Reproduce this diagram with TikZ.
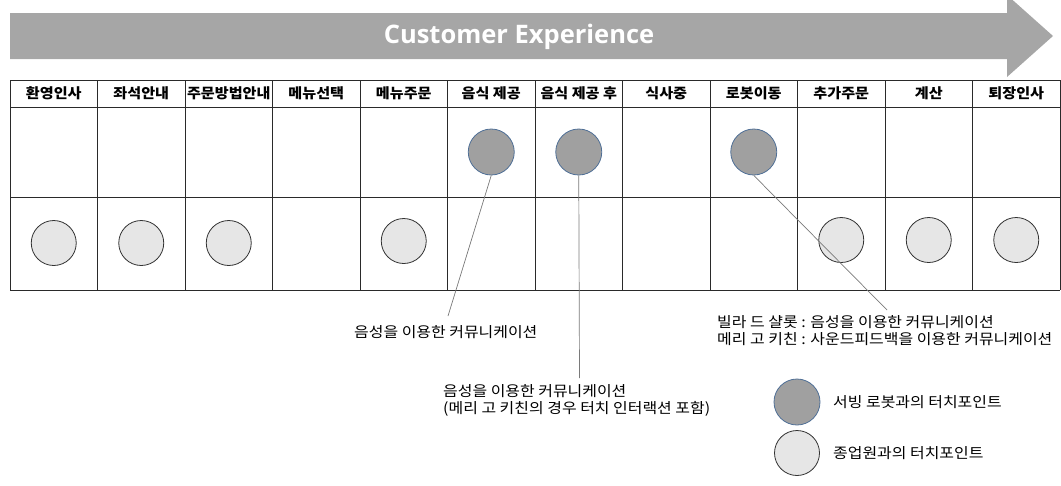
\documentclass[tikz,border=0pt]{standalone}
\usepackage{fontspec}
\setmainfont{Noto Sans CJK KR}
\newfontfamily\titlefont{Open Sans}
\newfontfamily\lblfont[FakeStretch=1.1]{Noto Sans CJK KR}
\newfontfamily\hdrfont[FakeStretch=1.08]{Noto Sans CJK KR}
\definecolor{arrowgray}{HTML}{A6A6A6}
\definecolor{robotfill}{HTML}{A0A0A0}
\definecolor{robotline}{HTML}{4F6F96}
\definecolor{stafffill}{HTML}{E6E6E6}
\definecolor{staffline}{HTML}{333333}
\definecolor{gridline}{HTML}{2A2A2A}
\definecolor{connline}{HTML}{7A7A7A}
\tikzset{
  hdr/.style={font=\hdrfont\bfseries\fontsize{14}{16}\selectfont, anchor=center, inner sep=0pt},
  robot/.style={circle, draw=robotline, fill=robotfill, line width=0.8pt, minimum size=46pt, inner sep=0pt},
  staff/.style={circle, draw=staffline, fill=stafffill, line width=0.8pt, minimum size=45pt, inner sep=0pt},
  conn/.style={draw=connline, line width=0.7pt},
  lbl/.style={font=\lblfont\fontsize{14.5}{17.5}\selectfont, anchor=west, inner sep=0pt, align=left},
  grid/.style={draw=gridline, line width=0.9pt}
}
\begin{document}
\begin{tikzpicture}[x=1pt,y=-1pt]
\useasboundingbox (0,0) rectangle (1061,485);
% big arrow
\fill[arrowgray] (10,13) -- (1007,13) -- (1007,-5) -- (1053,36) -- (1007,77) -- (1007,59) -- (10,59) -- cycle;
\node[font=\titlefont\bfseries\fontsize{25.5}{28}\selectfont, text=white] (title) at (519,37) {Customer Experience};
% table grid
\foreach \i in {0,...,12} {
  \draw[grid] ({10+87.5*\i},80) -- ({10+87.5*\i},290);
}
\draw[grid] (10,80) -- (1060,80);
\draw[grid] (10,107) -- (1060,107);
\draw[grid] (10,197) -- (1060,197);
\draw[grid] (10,290) -- (1060,290);
% header labels
\foreach \t [count=\i] in {환영인사,좌석안내,주문방법안내,메뉴선택,메뉴주문,음식 제공,음식 제공 후,식사중,로봇이동,추가주문,계산,퇴장인사} {
  \node[hdr] (h\i) at ({10+87.5*(\i-0.5)},93.5) {\t};
}
% robot touchpoints
\node[robot] (r1) at (491.25,152) {};
\node[robot] (r2) at (578.75,152) {};
\node[robot] (r3) at (753.75,152) {};
% staff touchpoints
\node[staff] (s1) at (53.75,243) {};
\node[staff] (s2) at (141.25,243) {};
\node[staff] (s3) at (228.75,243) {};
\node[staff] (s4) at (403.75,241) {};
\node[staff] (s5) at (841.25,240) {};
\node[staff] (s6) at (928.75,240) {};
\node[staff] (s7) at (1016.25,240) {};
% labels
\node[lbl] (t1) at (354,332) {음성을 이용한 커뮤니케이션};
\node[lbl] (t2) at (443,400.5) {음성을 이용한 커뮤니케이션\\(메리 고 키친의 경우 터치 인터랙션 포함)};
\node[lbl] (t3) at (717,330.5) {빌라 드 샬롯 : 음성을 이용한 커뮤니케이션\\메리 고 키친 : 사운드피드백을 이용한 커뮤니케이션};
% connector ends
\coordinate (e1) at (448,316);
\coordinate (e2) at (579.5,378);
\coordinate (e3) at (887,310);
\draw[conn] (r1.south) -- (e1);
\draw[conn] (r2.south) -- (e2);
\draw[conn] (r3.south) -- (e3);
% legend
\node[robot] (lg1) at (797,402) {};
\node[staff] (lg2) at (797,453) {};
\node[lbl] (lt1) at (833,402) {서빙 로봇과의 터치포인트};
\node[lbl] (lt2) at (833,453) {종업원과의 터치포인트};
\end{tikzpicture}
\end{document}
